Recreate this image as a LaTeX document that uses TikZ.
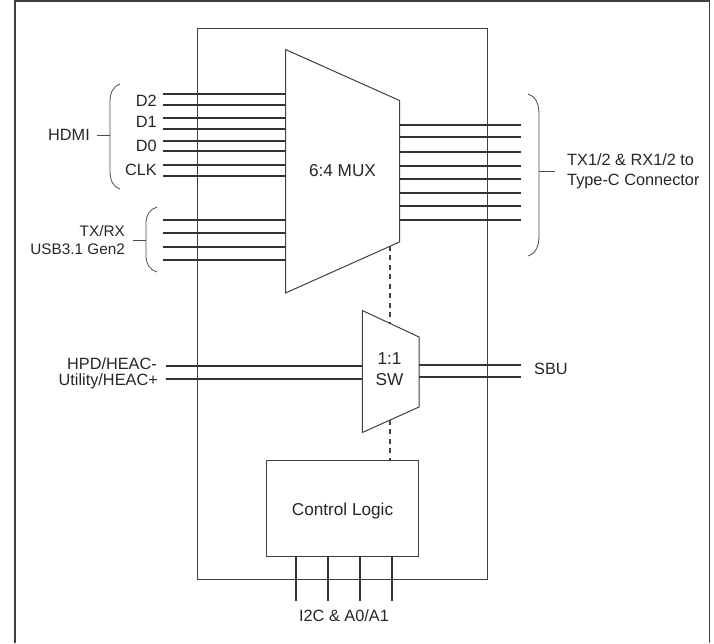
\documentclass[tikz,border=0pt]{standalone}
\usepackage{fontspec}
\setmainfont{Liberation Sans}
\usepackage{xcolor}

\begin{document}
\begin{tikzpicture}%
                [x={(1pt, 0pt)},
                y={(0pt, -1pt)},
                frame/.style={color=black!75, line width=1.6pt},
                block/.style={color=black!75, line width=1pt},
                wire/.style={color=black!80, line width=2pt},
                brace/.style={color=black!70, line width=0.8pt},
                ctrl/.style={color=black!75, line width=2.2pt, dash pattern=on 5pt off 4.5pt},
                txt/.style={inner sep=0pt, text=black!85, font=\fontsize{16.3}{20}\selectfont, align=center},
                bigtxt/.style={txt, font=\fontsize{17.2}{21}\selectfont}]
            \useasboundingbox (0,0) rectangle (714,643);

            %% Drawing the frame and the chip
            \draw[frame] (15,643) -- (15,1) -- (709.5,1) -- (709.5,643);
            \node[block, draw, minimum width=290pt, minimum height=551pt, inner sep=0pt] (chip) at (342.3,303.5) {};
            %%
            %% Drawing the blocks
            %%
            \coordinate (muxtl) at (285.5,49.5);
            \coordinate (muxtr) at (399.5,100.5);
            \coordinate (muxbr) at (399.5,242);
            \coordinate (muxbl) at (285.5,293);
            \draw[block, fill=white] (muxtl) -- (muxtr) -- (muxbr) -- (muxbl) -- cycle;
            \node[bigtxt] (mux) at (342.5,171) {6:4 MUX};
            \coordinate (swtl) at (362.3,310.5);
            \coordinate (swtr) at (419,337);
            \coordinate (swbr) at (419,407);
            \coordinate (swbl) at (362.3,432.5);
            \draw[block, fill=white] (swtl) -- (swtr) -- (swbr) -- (swbl) -- cycle;
            \node[bigtxt] (sw) at (389.5,369) {1:1\\SW};
            \node[block, draw, minimum width=152.5pt, minimum height=95.5pt, inner sep=0pt] (logic) at (342.7,508.7) {};
            \node[bigtxt] (logictxt) at (342.5,511.5) {Control Logic};
            %%
            %% Drawing the wires
            %%
            \foreach \n/\y in {a/94,b/105,c/118,d/129,e/141,f/151,g/165,h/176,i/220,j/233,k/247,l/260} {
                \coordinate (in\n) at (163,\y);
                \draw[wire] (in\n) -- (in\n -| muxtl);
            }
            \foreach \n/\y in {a/124.7,b/137,c/152,d/166,e/179,f/192.5,g/206,h/219.5} {
                \coordinate (out\n) at (521,\y);
                \draw[wire] (out\n -| muxtr) -- (out\n);
            }
            \foreach \n/\y in {a/366,b/378.5} {
                \coordinate (hpd\n) at (166,\y);
                \draw[wire] (hpd\n) -- (hpd\n -| swtl);
            }
            \foreach \n/\y in {a/364.5,b/377} {
                \coordinate (sbu\n) at (521,\y);
                \draw[wire] (sbu\n -| swtr) -- (sbu\n);
            }
            \foreach \n/\x in {a/296,b/328,c/360,d/392} {
                \coordinate (pin\n) at (\x,601);
                \draw[wire] (pin\n) -- (pin\n |- logic.south);
            }
            %% Control lines
            \coordinate (ctrla) at (390.3,245.5);
            \coordinate (ctrlb) at (390.3,323.5);
            \coordinate (ctrlc) at (390.3,419.5);
            \draw[ctrl] (ctrla) -- (ctrlb);
            \draw[ctrl] (ctrlc) -- (ctrlc |- logic.north);
            %%
            %% Drawing the braces
            %%
            \coordinate (hdmit) at (120,84);
            \coordinate (hdmib) at (120,189);
            \coordinate (hdmim) at (110,136);
            \draw[brace] (hdmit) .. controls (113,86) and (110,93) .. (110,102) -- (110,171) .. controls (110,180) and (113,187) .. (hdmib);
            \coordinate (usbt) at (157,207);
            \coordinate (usbb) at (157,272);
            \coordinate (usbm) at (146,240);
            \draw[brace] (usbt) .. controls (150,209) and (146,215) .. (146,223) -- (146,256) .. controls (146,264) and (150,270) .. (usbb);
            \coordinate (connt) at (528,94);
            \coordinate (connb) at (528,256);
            \coordinate (connm) at (539,171);
            \draw[brace] (connt) .. controls (535,96) and (539,103) .. (539,114) -- (539,236) .. controls (539,247) and (535,254) .. (connb);
            %%
            %% Drawing the labels
            %%
            \node[txt, anchor=east] (hdmi) at (90,135) {HDMI};
            \draw[brace] (hdmi.east) ++ (7,0) coordinate (hdmis) -- (hdmis -| hdmim);
            \node[txt, anchor=east, align=right, font=\fontsize{15.3}{18.5}\selectfont] (usb) at (125,240) {TX/RX\\USB3.1 Gen2};
            \draw[brace] (usb.east) ++ (8,0) coordinate (usbs) -- (usbs -| usbm);
            \node[txt, anchor=west, align=left] (conn) at (567,171) {TX1/2 \& RX1/2 to\\Type-C Connector};
            \draw[brace] (connm) -- (555,171);
            \node[txt, anchor=east] (dtwo) at (157,100.5) {D2};
            \node[txt, anchor=east] (done) at (157,122) {D1};
            \node[txt, anchor=east] (dzero) at (157,146) {D0};
            \node[txt, anchor=east] (clk) at (157,170) {CLK};
            \node[txt, anchor=east] (hpd) at (157,364) {HPD/HEAC-};
            \node[txt, anchor=east] (util) at (158,381) {Utility/HEAC+};
            \node[txt, anchor=west] (sbu) at (534,368.5) {SBU};
            \node[txt] (ictwo) at (344,616) {I2C \& A0/A1};
            %%
            %%
            \end{tikzpicture}
\end{document}
